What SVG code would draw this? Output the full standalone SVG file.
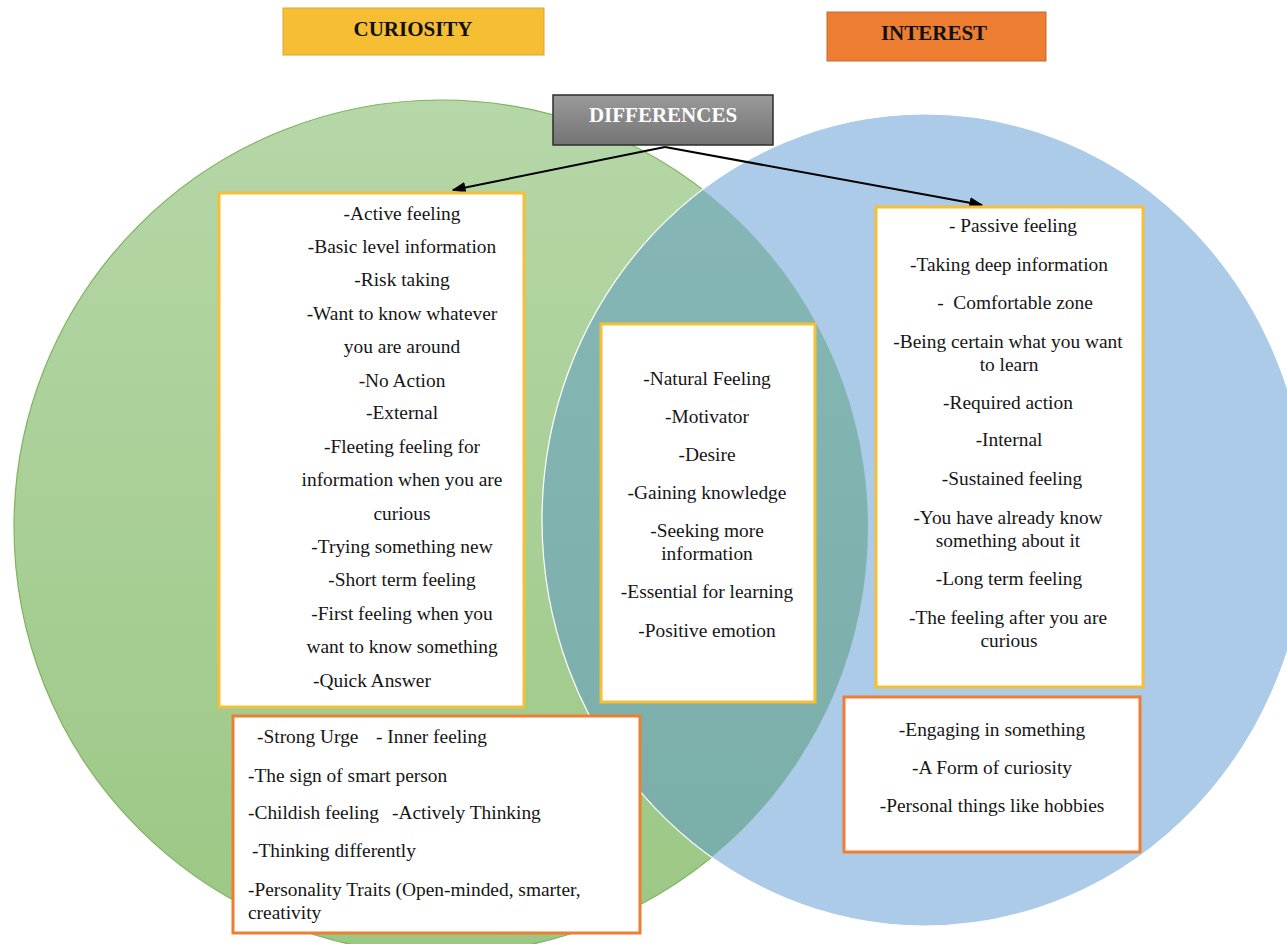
<svg xmlns="http://www.w3.org/2000/svg" width="1287" height="944" viewBox="0 0 1287 944">
  <style>
    .t { font-family: "Liberation Serif", "Times New Roman", serif; font-size: 19.4px; fill: #161616; }
    .c { text-anchor: middle; }
    .title { font-family: "Liberation Serif", "Times New Roman", serif; font-size: 21px; font-weight: bold; text-anchor: middle; }
    .ybox { fill: #ffffff; stroke: #f6bf35; stroke-width: 3; }
    .obox { fill: #ffffff; stroke: #ee7e33; stroke-width: 3; }
    .link { stroke: #000; stroke-width: 2; fill: none; }
  </style>
  <defs>
    <linearGradient id="greenFill" x1="0" y1="0" x2="0" y2="1">
      <stop offset="0" stop-color="#b6d7a8"/>
      <stop offset="1" stop-color="#9bc783"/>
    </linearGradient>
    <linearGradient id="tealFill" x1="0" y1="0" x2="0" y2="1">
      <stop offset="0" stop-color="#86b7b7"/>
      <stop offset="1" stop-color="#7aaea8"/>
    </linearGradient>
    <linearGradient id="grayFill" x1="0" y1="0" x2="0" y2="1">
      <stop offset="0" stop-color="#9a9a9a"/>
      <stop offset="1" stop-color="#747474"/>
    </linearGradient>
    <clipPath id="greenClip">
      <circle cx="441" cy="527" r="427"/>
    </clipPath>
    <marker id="arrow" viewBox="0 0 10 10" refX="9" refY="5" markerWidth="7" markerHeight="7" orient="auto" markerUnits="strokeWidth">
      <path d="M0,1 L10,5 L0,9 z" fill="#000"/>
    </marker>
  </defs>

  <!-- Venn background -->
  <g id="venn">
    <circle cx="441" cy="527" r="427" fill="url(#greenFill)" stroke="#7db35f" stroke-width="1.2"/>
    <ellipse cx="925" cy="520" rx="383" ry="406" fill="#abcbe8"/>
    <ellipse cx="925" cy="520" rx="383" ry="406" fill="url(#tealFill)" clip-path="url(#greenClip)"/>
    <ellipse cx="925" cy="520" rx="383" ry="406" fill="none" stroke="#ffffff" stroke-width="1.2"/>
  </g>

  <!-- Headings -->
  <g id="curiosity">
    <rect x="283" y="8" width="261" height="47" fill="#f6be33" stroke="#d6a53c" stroke-width="1"/>
    <text class="title" x="413" y="36" fill="#111">CURIOSITY</text>
  </g>
  <g id="interest">
    <rect x="827" y="12" width="219" height="49" fill="#ed7d31" stroke="#c66b31" stroke-width="1"/>
    <text class="title" x="934" y="40" fill="#111">INTEREST</text>
  </g>
  <g id="differences">
    <rect x="553" y="95" width="220" height="50" fill="url(#grayFill)" stroke="#2e2e2e" stroke-width="1.5"/>
    <text class="title" x="663" y="122" fill="#ffffff">DIFFERENCES</text>
  </g>

  <!-- Connectors -->
  <g id="connectors">
    <line class="link" x1="665" y1="147" x2="453" y2="190" marker-end="url(#arrow)"/>
    <line class="link" x1="665" y1="147" x2="982" y2="205" marker-end="url(#arrow)"/>
  </g>

  <!-- Curiosity differences -->
  <g id="curiosity-list">
    <rect class="ybox" x="219" y="193" width="305" height="514"/>
    <text class="t c" x="402" y="220">-Active feeling</text>
    <text class="t c" x="402" y="253">-Basic level information</text>
    <text class="t c" x="402" y="286">-Risk taking</text>
    <text class="t c" x="402" y="320">-Want to know whatever</text>
    <text class="t c" x="402" y="353">you are around</text>
    <text class="t c" x="402" y="387">-No Action</text>
    <text class="t c" x="402" y="419">-External</text>
    <text class="t c" x="402" y="453">-Fleeting feeling for</text>
    <text class="t c" x="402" y="486">information when you are</text>
    <text class="t c" x="402" y="520">curious</text>
    <text class="t c" x="402" y="553">-Trying something new</text>
    <text class="t c" x="402" y="586">-Short term feeling</text>
    <text class="t c" x="402" y="620">-First feeling when you</text>
    <text class="t c" x="402" y="653">want to know something</text>
    <text class="t" x="313" y="687">-Quick Answer</text>
  </g>

  <!-- Shared traits -->
  <g id="common-list">
    <rect class="ybox" x="601" y="324" width="214" height="378"/>
    <text class="t c" x="707" y="385">-Natural Feeling</text>
    <text class="t c" x="707" y="423">-Motivator</text>
    <text class="t c" x="707" y="461">-Desire</text>
    <text class="t c" x="707" y="499">-Gaining knowledge</text>
    <text class="t c" x="707" y="537">-Seeking more</text>
    <text class="t c" x="707" y="560">information</text>
    <text class="t c" x="707" y="598">-Essential for learning</text>
    <text class="t c" x="707" y="637">-Positive emotion</text>
  </g>

  <!-- Interest differences -->
  <g id="interest-list">
    <rect class="ybox" x="876" y="207" width="267" height="480"/>
    <text class="t c" x="1013" y="232">- Passive feeling</text>
    <text class="t c" x="1009" y="271">-Taking deep information</text>
    <text class="t c" x="1015" y="309" xml:space="preserve">-  Comfortable zone</text>
    <text class="t c" x="1008" y="348">-Being certain what you want</text>
    <text class="t c" x="1009" y="371">to learn</text>
    <text class="t c" x="1008" y="409">-Required action</text>
    <text class="t c" x="1009" y="446">-Internal</text>
    <text class="t c" x="1012" y="485">-Sustained feeling</text>
    <text class="t c" x="1008" y="524">-You have already know</text>
    <text class="t c" x="1008" y="547">something about it</text>
    <text class="t c" x="1009" y="585">-Long term feeling</text>
    <text class="t c" x="1008" y="624">-The feeling after you are</text>
    <text class="t c" x="1009" y="647">curious</text>
  </g>

  <!-- Curiosity traits -->
  <g id="curiosity-traits">
    <rect class="obox" x="233" y="716" width="407" height="217"/>
    <text class="t" x="257" y="743">-Strong Urge</text>
    <text class="t" x="376" y="743">- Inner feeling</text>
    <text class="t" x="248" y="782">-The sign of smart person</text>
    <text class="t" x="248" y="819">-Childish feeling</text>
    <text class="t" x="392" y="819">-Actively Thinking</text>
    <text class="t" x="252" y="857">-Thinking differently</text>
    <text class="t" x="248" y="896">-Personality Traits (Open-minded, smarter,</text>
    <text class="t" x="248" y="919">creativity</text>
  </g>

  <!-- Interest traits -->
  <g id="interest-traits">
    <rect class="obox" x="844" y="697" width="296" height="155"/>
    <text class="t c" x="992" y="736">-Engaging in something</text>
    <text class="t c" x="992" y="774">-A Form of curiosity</text>
    <text class="t c" x="992" y="812">-Personal things like hobbies</text>
  </g>
</svg>
